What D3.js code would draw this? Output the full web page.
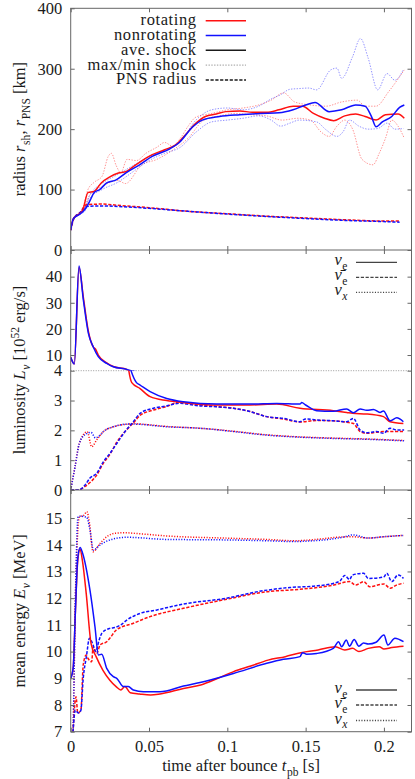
<!DOCTYPE html>
<html><head><meta charset="utf-8">
<script src="https://cdn.jsdelivr.net/npm/d3@7"></script>
<style>
body{margin:0;background:#fff}
svg{display:block}
</style>
</head><body>
<svg id="c" width="415" height="779"></svg>
<script>
// ---------------- DATA ----------------
const tTicks = [0, 0.05, 0.1, 0.15, 0.2];
const tTickLabels = ["0", "0.05", "0.1", "0.15", "0.2"];
const rTicks = [0, 100, 200, 300, 400];
const lumUpperTicks = [10, 20, 30, 40];
const lumLowerTicks = [0, 1, 2, 3, 4];
const eTicks = [7, 8, 9, 10, 11, 12, 13, 14, 15];

const seriesNames = ["rotating", "nonrotating"];
const shockLegend = ["ave. shock", "max/min shock", "PNS radius"];

// shock radius [km] vs t_pb [s]
const rotAvgShock = [[0,33],[0.0017,52],[0.0045,58],[0.0077,66],[0.011,95],[0.015,97],[0.0195,111],[0.025,121],[0.03,127],[0.0355,130],[0.04,138],[0.044,145],[0.05,155],[0.06,166],[0.067,174],[0.073,190],[0.08,210],[0.086,221],[0.093,225],[0.099,229],[0.108,230],[0.116,228],[0.125,228],[0.133,232],[0.142,238],[0.148,238],[0.155,226],[0.162,218],[0.168,214],[0.175,222],[0.182,225],[0.188,221],[0.195,215],[0.201,224],[0.209,225],[0.213,218]];
const nonAvgShock = [[0,33],[0.0017,52],[0.005,58],[0.009,67],[0.012,80],[0.015,95],[0.0185,100],[0.023,111],[0.029,116],[0.0355,128],[0.044,141],[0.052,155],[0.063,167],[0.069,177],[0.078,204],[0.084,215],[0.095,221],[0.108,224],[0.121,226],[0.133,227],[0.142,232],[0.15,240],[0.156,244],[0.165,229],[0.173,232],[0.182,240],[0.188,238],[0.192,221],[0.195,204],[0.199,212],[0.205,221],[0.21,236],[0.213,240]];
const rotMaxShock = [[0,33],[0.002,52],[0.005,58],[0.008,72],[0.011,100],[0.015,112],[0.02,122],[0.024,155],[0.026,160],[0.029,140],[0.032,128],[0.036,150],[0.042,148],[0.048,160],[0.055,170],[0.06,178],[0.065,172],[0.07,185],[0.075,205],[0.08,220],[0.09,226],[0.1,232],[0.11,235],[0.12,240],[0.128,248],[0.136,260],[0.143,245],[0.153,240],[0.163,238],[0.173,245],[0.183,248],[0.188,238],[0.195,238],[0.203,262],[0.213,298]];
const rotMinShock = [[0,33],[0.002,52],[0.005,58],[0.008,64],[0.012,90],[0.02,105],[0.03,115],[0.035,110],[0.045,140],[0.055,150],[0.065,165],[0.075,185],[0.085,215],[0.095,222],[0.105,226],[0.115,224],[0.125,222],[0.135,215],[0.145,218],[0.153,215],[0.16,195],[0.165,188],[0.17,205],[0.175,215],[0.18,200],[0.186,150],[0.193,141],[0.197,160],[0.201,185],[0.205,215],[0.209,205],[0.213,185]];
const nonMaxShock = [[0,33],[0.002,52],[0.005,58],[0.009,70],[0.012,90],[0.02,110],[0.03,125],[0.04,140],[0.05,155],[0.06,165],[0.07,180],[0.08,215],[0.09,232],[0.1,235],[0.11,232],[0.12,238],[0.128,250],[0.134,257],[0.14,266],[0.145,267],[0.152,268],[0.157,265],[0.166,298],[0.17,301],[0.173,284],[0.18,320],[0.185,350],[0.19,317],[0.196,265],[0.202,292],[0.207,281],[0.2125,299]];
const nonMinShock = [[0,33],[0.002,52],[0.005,58],[0.009,64],[0.012,85],[0.02,100],[0.03,112],[0.04,130],[0.05,148],[0.06,160],[0.07,170],[0.08,195],[0.09,212],[0.1,215],[0.11,218],[0.12,222],[0.128,215],[0.134,205],[0.14,210],[0.146,215],[0.157,212],[0.163,199],[0.17,188],[0.174,196],[0.178,215],[0.184,205],[0.19,200],[0.196,201],[0.202,210],[0.207,200],[0.2125,201]];
const rotPNS = [[0,33],[0.002,52],[0.006,62],[0.01,75],[0.02,76],[0.03,74],[0.05,70],[0.075,64],[0.1,60],[0.125,56],[0.15,53],[0.175,50],[0.2,48],[0.21,48]];
const nonPNS = [[0,33],[0.002,52],[0.006,62],[0.01,72],[0.02,73],[0.03,72],[0.05,69],[0.075,64],[0.1,59.5],[0.125,55.5],[0.15,52],[0.175,49],[0.2,47],[0.21,46]];

// luminosity [1e52 erg/s]
const rotLumE = [[0,9.1],[0.0023,6.6],[0.0053,43.5],[0.0081,32],[0.0113,19],[0.0145,13],[0.0158,12.3],[0.0176,10],[0.023,7],[0.0272,5.6],[0.0358,4.5],[0.0368,4.1],[0.039,3.6],[0.0443,3.4],[0.0507,3.13],[0.0613,3.0],[0.072,2.93],[0.0932,2.85],[0.1145,2.85],[0.1315,2.88],[0.1464,2.74],[0.1677,2.66],[0.1762,2.6],[0.18,2.57],[0.189,2.55],[0.1997,2.46],[0.2039,2.29],[0.2124,2.23]];
const nonLumE = [[0,9.1],[0.0023,6.6],[0.0053,44.1],[0.0081,31],[0.0113,18.3],[0.0145,13],[0.0176,9.4],[0.023,6.8],[0.0272,5.5],[0.0358,4.5],[0.0379,4.1],[0.042,3.6],[0.0443,3.52],[0.0507,3.3],[0.0613,3.07],[0.072,2.96],[0.0932,2.88],[0.1145,2.88],[0.1315,2.9],[0.1464,2.88],[0.1475,2.93],[0.15,2.85],[0.157,2.66],[0.1677,2.64],[0.1762,2.72],[0.1805,2.59],[0.1848,2.72],[0.189,2.67],[0.1933,2.7],[0.1975,2.6],[0.1997,2.65],[0.2039,2.32],[0.2082,2.42],[0.2124,2.29]];
const rotLumEb = [[0,0],[0.002,0],[0.006,0.02],[0.0092,0.12],[0.0123,0.25],[0.0166,0.5],[0.0209,0.9],[0.0251,1.2],[0.0294,1.6],[0.0347,1.96],[0.04,2.25],[0.0443,2.5],[0.0528,2.68],[0.0613,2.8],[0.0698,2.96],[0.0741,2.92],[0.0826,2.85],[0.0932,2.8],[0.1039,2.74],[0.1145,2.63],[0.1252,2.46],[0.1358,2.38],[0.1464,2.28],[0.1571,2.33],[0.1677,2.32],[0.1762,2.27],[0.1805,2.23],[0.1848,1.96],[0.189,1.9],[0.1954,1.94],[0.1997,1.96],[0.2082,1.96],[0.2129,1.96]];
const nonLumEb = [[0,0],[0.002,0],[0.006,0.02],[0.0092,0.17],[0.0123,0.4],[0.0166,0.56],[0.0209,0.95],[0.0251,1.23],[0.0294,1.56],[0.0347,1.96],[0.04,2.29],[0.0443,2.57],[0.0528,2.74],[0.0613,2.82],[0.0698,2.91],[0.0741,2.88],[0.0826,2.82],[0.0932,2.79],[0.1039,2.74],[0.1145,2.63],[0.1252,2.46],[0.1358,2.4],[0.1464,2.29],[0.15,2.38],[0.1571,2.35],[0.1677,2.32],[0.1762,2.29],[0.1805,2.4],[0.1848,2.01],[0.189,1.92],[0.1954,1.96],[0.1997,1.9],[0.2039,2.07],[0.2082,2.01],[0.2129,2.01]];
const rotLumX = [[0,0],[0.0028,0.8],[0.0055,1.56],[0.0106,1.95],[0.0134,1.45],[0.0166,1.68],[0.0209,1.96],[0.0272,2.12],[0.0368,2.21],[0.04,2.22],[0.0613,2.13],[0.0826,2.07],[0.1039,1.97],[0.1252,1.85],[0.1464,1.78],[0.1677,1.74],[0.189,1.71],[0.2129,1.66]];
const nonLumX = [[0,0],[0.0028,0.78],[0.0055,1.56],[0.009,1.85],[0.013,1.93],[0.0158,1.75],[0.019,1.85],[0.0209,1.96],[0.0272,2.12],[0.0368,2.21],[0.04,2.21],[0.0613,2.12],[0.0826,2.07],[0.1039,1.96],[0.1252,1.84],[0.1464,1.77],[0.1677,1.73],[0.189,1.7],[0.2129,1.65]];

// mean energy [MeV]
const rotEnE = [[0,9.0],[0.0016,9.4],[0.003,11.5],[0.0045,13.4],[0.006,13.83],[0.0075,13.4],[0.0099,12.18],[0.013,10.3],[0.0163,9.8],[0.0206,9.3],[0.025,8.93],[0.029,8.69],[0.032,8.56],[0.0346,8.69],[0.038,8.46],[0.044,8.41],[0.051,8.37],[0.057,8.41],[0.072,8.62],[0.083,8.75],[0.094,9.0],[0.104,9.25],[0.115,9.46],[0.126,9.68],[0.137,9.81],[0.147,9.96],[0.158,10.06],[0.169,10.18],[0.175,10.06],[0.18,10.12],[0.184,10.0],[0.19,10.12],[0.197,10.18],[0.2,10.1],[0.205,10.15],[0.2125,10.2]];
const nonEnE = [[0,9.0],[0.0016,9.4],[0.003,11.5],[0.0045,13.5],[0.006,13.9],[0.0075,13.7],[0.0123,12.3],[0.0155,10.93],[0.0177,9.87],[0.0198,9.9],[0.023,9.37],[0.0272,9.06],[0.0294,9.0],[0.0336,8.69],[0.0368,8.69],[0.04,8.56],[0.0464,8.5],[0.057,8.5],[0.072,8.71],[0.0826,8.84],[0.1039,9.18],[0.1252,9.56],[0.1358,9.71],[0.1464,9.81],[0.148,9.96],[0.1507,9.9],[0.1571,9.93],[0.1677,10.12],[0.171,10.37],[0.173,10.18],[0.176,10.43],[0.178,10.2],[0.181,10.45],[0.184,10.2],[0.187,10.32],[0.19,10.28],[0.195,10.35],[0.2,10.62],[0.2025,10.25],[0.207,10.5],[0.2125,10.37]];
const rotEnEb = [[0,5],[0.0015,7.0],[0.0034,8.31],[0.0045,7.7],[0.0065,7.8],[0.008,9.5],[0.0099,9.87],[0.011,9.75],[0.0134,9.62],[0.0143,10.18],[0.0166,9.93],[0.0188,10.25],[0.023,10.37],[0.025,10.5],[0.029,10.8],[0.04,11.06],[0.0507,11.31],[0.072,11.62],[0.0996,11.96],[0.125,12.24],[0.146,12.33],[0.168,12.49],[0.178,12.62],[0.182,12.49],[0.187,12.62],[0.191,12.43],[0.2,12.53],[0.204,12.37],[0.208,12.49],[0.2125,12.56]];
const nonEnEb = [[0,5],[0.0015,7.0],[0.003,7.8],[0.005,7.7],[0.0065,7.8],[0.008,9.0],[0.01,9.8],[0.012,10.5],[0.014,10.3],[0.016,10.0],[0.018,10.4],[0.02,10.7],[0.025,10.87],[0.028,10.9],[0.032,11.0],[0.0358,11.18],[0.0443,11.43],[0.055,11.56],[0.072,11.78],[0.0996,12.0],[0.12,12.25],[0.14,12.4],[0.155,12.45],[0.168,12.56],[0.172,12.65],[0.175,12.85],[0.178,12.7],[0.18,12.87],[0.187,12.93],[0.19,12.74],[0.195,12.75],[0.2,12.8],[0.2018,12.93],[0.205,12.62],[0.209,12.87],[0.2125,12.74]];
const rotEnX = [[0,5],[0.0015,6.8],[0.003,12],[0.0056,15.05],[0.0083,15.1],[0.0103,15.24],[0.012,14.8],[0.0142,13.74],[0.0187,14.05],[0.023,14.3],[0.0283,14.43],[0.0347,14.45],[0.04,14.43],[0.0613,14.33],[0.1039,14.24],[0.125,14.2],[0.1425,14.15],[0.16,14.22],[0.17,14.28],[0.18,14.3],[0.19,14.25],[0.2,14.3],[0.2125,14.35]];
const nonEnX = [[0,5],[0.0015,6.8],[0.003,12],[0.0047,15.05],[0.006,15.07],[0.0102,15.03],[0.0123,14.55],[0.0145,13.8],[0.0187,13.99],[0.025,14.18],[0.0357,14.28],[0.061,14.2],[0.1,14.18],[0.125,14.15],[0.1425,14.12],[0.155,14.15],[0.165,14.2],[0.175,14.3],[0.18,14.37],[0.19,14.25],[0.2,14.3],[0.2125,14.35]];

// ---------------- LAYOUT ----------------
const L = 70.7, R = 411.5, T1 = 8.3, B1 = 250, B2 = 490, B3 = 731.7, BRK = 370.7;
const RED = "#ff1010", BLUE = "#1010ff", FRAME = "#666", INK = "#1a1a1a";
const FONT = '"Liberation Serif"';
const FS = 16.5;

const svg = d3.select("#c");
const x = d3.scaleLinear().domain([0, 0.2176]).range([L, R]);
const y1 = d3.scaleLinear().domain([0, 400]).range([B1, T1]);
const y2u = d3.scaleLinear().domain([4, 50.2]).range([BRK, B1]);
const y2l = d3.scaleLinear().domain([0, 4]).range([B2, BRK]);
const y3 = d3.scaleLinear().domain([7, 16.05]).range([B3, B2]);

const defs = svg.append("defs");
function clip(id, y0, y1_) {
  defs.append("clipPath").attr("id", id).append("rect")
    .attr("x", L).attr("y", y0).attr("width", R - L).attr("height", y1_ - y0);
  return "url(#" + id + ")";
}
const c1 = clip("c1", T1, B1), c2u = clip("c2u", B1, BRK), c2l = clip("c2l", BRK, B2), c3 = clip("c3", B2, B3);

const DASH = "3.2,1.6", DOT = "1.1,1.6";
function draw(data, ys, clipUrl, color, opts = {}) {
  const line = d3.line().x(d => x(d[0])).y(d => ys(d[1])).curve(d3.curveMonotoneX);
  svg.append("path").attr("d", line(data)).attr("clip-path", clipUrl)
    .attr("fill", "none").attr("stroke", color)
    .attr("stroke-width", opts.w || 1.5)
    .attr("stroke-opacity", opts.op || 1)
    .attr("stroke-dasharray", opts.dash || null)
    .attr("stroke-linejoin", "round");
}

// Panel 1: shock radii
draw(rotMaxShock, y1, c1, RED, {w: 1, op: 0.45, dash: "1.4,1.4"});
draw(rotMinShock, y1, c1, RED, {w: 1, op: 0.45, dash: "1.4,1.4"});
draw(nonMaxShock, y1, c1, BLUE, {w: 1, op: 0.45, dash: "1.4,1.4"});
draw(nonMinShock, y1, c1, BLUE, {w: 1, op: 0.45, dash: "1.4,1.4"});
draw(rotPNS, y1, c1, RED, {dash: DASH});
draw(nonPNS, y1, c1, BLUE, {dash: DASH});
draw(rotAvgShock, y1, c1, RED);
draw(nonAvgShock, y1, c1, BLUE);

// Panel 2: luminosity (broken axis)
svg.append("line").attr("x1", L).attr("x2", R).attr("y1", BRK).attr("y2", BRK)
  .attr("stroke", "#999").attr("stroke-dasharray", "1,1.5");
[[rotLumX, RED, DOT], [nonLumX, BLUE, DOT], [rotLumEb, RED, DASH], [nonLumEb, BLUE, DASH], [rotLumE, RED, null], [nonLumE, BLUE, null]]
  .forEach(([d, c, dash]) => {
    draw(d, y2u, c2u, c, {dash});
    draw(d, y2l, c2l, c, {dash});
  });

// Panel 3: mean energy
[[rotEnX, RED, DOT], [nonEnX, BLUE, DOT], [rotEnEb, RED, DASH], [nonEnEb, BLUE, DASH], [rotEnE, RED, null], [nonEnE, BLUE, null]]
  .forEach(([d, c, dash]) => draw(d, y3, c3, c, {dash}));

// ---------------- AXES ----------------
function styleAxis(g) {
  g.attr("font-family", null).attr("font-size", null);
  g.select(".domain").remove();
  g.selectAll(".tick line").attr("stroke", FRAME);
  g.selectAll(".tick text").attr("fill", INK);
}
function yAxis(scale, ticks, labels) {
  svg.append("g").attr("transform", `translate(${L},0)`)
    .call(d3.axisLeft(scale).tickValues(ticks).tickSizeInner(-4).tickSizeOuter(0).tickPadding(8.5)
      .tickFormat(labels ? (d => String(d)) : () => ""))
    .call(styleAxis);
  svg.append("g").attr("transform", `translate(${R},0)`)
    .call(d3.axisRight(scale).tickValues(ticks).tickSizeInner(-4).tickSizeOuter(0).tickFormat(() => ""))
    .call(styleAxis);
}
yAxis(y1, rTicks, true);
yAxis(y2u, lumUpperTicks, true);
yAxis(y2l, lumLowerTicks, true);
yAxis(y3, eTicks, true);

function xAxisAt(yPos, top, bottom, labels) {
  if (top) svg.append("g").attr("transform", `translate(0,${yPos})`)
    .call(d3.axisTop(x).tickValues(tTicks).tickSizeInner(-4).tickSizeOuter(0).tickFormat(() => ""))
    .call(styleAxis);
  if (bottom) svg.append("g").attr("transform", `translate(0,${yPos})`)
    .call(d3.axisBottom(x).tickValues(tTicks).tickSizeInner(-4).tickSizeOuter(0).tickPadding(8.5)
      .tickFormat(labels ? ((d, i) => tTickLabels[i]) : () => ""))
    .call(styleAxis);
}
xAxisAt(T1, true, false, false);
xAxisAt(B1, true, true, false);
xAxisAt(B2, true, true, false);
xAxisAt(B3, false, true, true);

// frame
svg.append("rect").attr("x", L).attr("y", T1).attr("width", R - L).attr("height", B3 - T1)
  .attr("fill", "none").attr("stroke", FRAME).attr("stroke-width", 1);
[B1, B2].forEach(yy => svg.append("line").attr("x1", L).attr("x2", R).attr("y1", yy).attr("y2", yy)
  .attr("stroke", FRAME).attr("stroke-width", 1));

// ---------------- RICH TEXT ----------------
// parts: [text, style] style: "" roman, "i" italic, "sub" roman subscript, "subi" italic subscript, "sup" superscript
function rich(sel, parts, size) {
  let cur = 0;
  parts.forEach(([s, st]) => {
    const shift = st.startsWith("sub") ? size * 0.3 : (st === "sup" ? -size * 0.38 : 0);
    const ts = sel.append("tspan").text(s).attr("dy", shift - cur);
    if (st.startsWith("sub")) ts.attr("dx", 0.6);
    cur = shift;
    if (st === "i" || st === "subi") ts.style("font-style", "italic");
    if (st.startsWith("sub") || st === "sup") ts.style("font-size", (size * 0.7) + "px");
  });
  return sel;
}
function label(xp, yp, rot, parts, anchor = "middle") {
  const t = svg.append("text").attr("transform", `translate(${xp},${yp}) rotate(${rot})`)
    .attr("text-anchor", anchor).attr("fill", INK);
  rich(t, parts, FS);
}
label(25, (T1 + B1) / 2, -90, [["radius ", ""], ["r", "i"], ["sh", "sub"], [", ", ""], ["r", "i"], ["PNS", "sub"], [" [km]", ""]]);
label(25, (B1 + B2) / 2, -90, [["luminosity ", ""], ["L", "i"], ["ν", "subi"], [" [10", ""], ["52", "sup"], [" erg/s]", ""]]);
label(25, (B2 + B3) / 2, -90, [["mean energy ", ""], ["E", "i"], ["ν", "subi"], [" [MeV]", ""]]);
label((L + R) / 2, 771, 0, [["time after bounce ", ""], ["t", "i"], ["pb", "sub"], [" [s]", ""]]);

// ---------------- LEGENDS ----------------
const lg1 = [
  {name: seriesNames[0], color: RED, dash: null, w: 1.5},
  {name: seriesNames[1], color: BLUE, dash: null, w: 1.5},
  {name: shockLegend[0], color: INK, dash: null, w: 1.5},
  {name: shockLegend[1], color: "#999", dash: "1.4,1.4", w: 1},
  {name: shockLegend[2], color: INK, dash: DASH, w: 1.5}
];
lg1.forEach((d, i) => {
  const yy = 20.7 + i * 14.8;
  svg.append("text").attr("x", 196.7).attr("y", yy + 4.5).attr("text-anchor", "end")
    .attr("fill", INK).attr("letter-spacing", 0.6).text(d.name);
  svg.append("line").attr("x1", 205.7).attr("x2", 246).attr("y1", yy).attr("y2", yy)
    .attr("stroke", d.color).attr("stroke-width", d.w).attr("stroke-dasharray", d.dash);
});

const nuLegend = [
  {parts: [["ν", "i"], ["e", "sub"]], dash: null},
  {parts: [["ν\u0304", "i"], ["e", "sub"]], dash: DASH},
  {parts: [["ν", "i"], ["x", "subi"]], dash: DOT}
];
function nuLeg(ys) {
  nuLegend.forEach((d, i) => {
    const yy = ys[i];
    const t = svg.append("text").attr("x", 347.5).attr("y", yy + 3).attr("text-anchor", "end").attr("fill", INK);
    rich(t, d.parts, FS);
    svg.append("line").attr("x1", 356).attr("x2", 397).attr("y1", yy).attr("y2", yy)
      .attr("stroke", "#444").attr("stroke-width", 1.3).attr("stroke-dasharray", d.dash);
  });
}
nuLeg([262.3, 277.3, 292.3]);
nuLeg([690, 705, 720.5]);

// apply the serif font to every text as an inline style
svg.selectAll("text").style("font-family", FONT).style("font-size", FS + "px");
svg.selectAll("tspan").style("font-family", FONT);
</script>
</body></html>
